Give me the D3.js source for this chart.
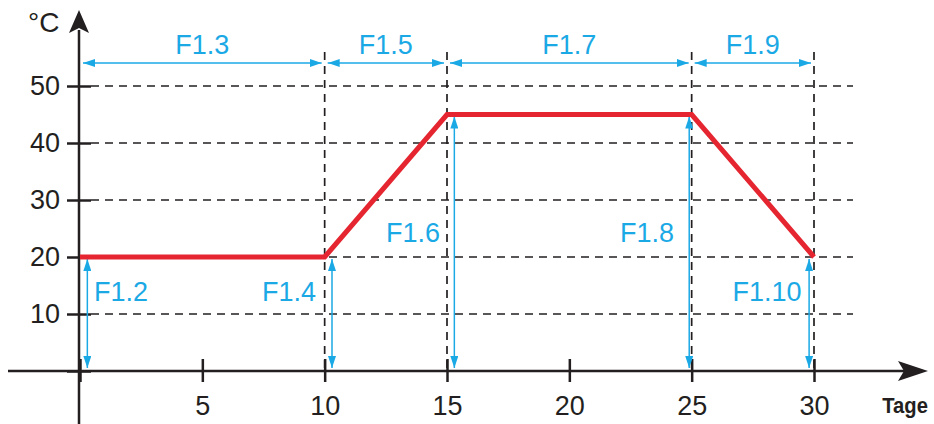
<!DOCTYPE html>
<html>
<head>
<meta charset="utf-8">
<script src="https://cdn.jsdelivr.net/npm/d3@7"></script>
<style>
  body { margin: 0; background: #fff; }
  text { font-family: "Liberation Sans", Arial, sans-serif; }
</style>
</head>
<body>
<svg id="mainsvg" width="934" height="424"></svg>
<script>
// temperature profile (day, °C)
const days = [0, 10, 15, 25, 30]
const temps = [20, 20, 45, 45, 20]
const xTicks = [0, 5, 10, 15, 20, 25, 30]
const yTicks = [0, 10, 20, 30, 40, 50]
// phase spans drawn on top
const spanStart = [0, 10, 15, 25]
const spanEnd = [10, 15, 25, 30]
const spanLabels = ['F1.3', 'F1.5', 'F1.7', 'F1.9']
// level arrows
const levelDays = [0.3, 10.3, 15.3, 24.9, 29.8]
const levelTemps = [20, 20, 45, 45, 20]
const levelLabels = ['F1.2', 'F1.4', 'F1.6', 'F1.8', 'F1.10']
const levelLabelPos = [[121, 301], [289, 301], [413, 242], [647, 242], [767, 301]]

const blue = '#1ba9e6'
const red = '#e52630'
const ink = '#231f20'
const fs = 27

const svg = d3.select('#mainsvg')
const x = d3.scaleLinear().domain([0, 30]).range([80, 814])
const y = d3.scaleLinear().domain([0, 50]).range([371, 86])

const defs = svg.append('defs')
defs.append('marker')
  .attr('id', 'bh').attr('viewBox', '0 0 12 8')
  .attr('refX', 12).attr('refY', 4)
  .attr('markerWidth', 12).attr('markerHeight', 8)
  .attr('markerUnits', 'userSpaceOnUse')
  .attr('orient', 'auto-start-reverse')
  .append('path').attr('d', 'M0,0 L12,4 L0,8 Z').attr('fill', blue)

// dashed grid
svg.append('g').selectAll('line')
  .data(yTicks.filter(d => d > 0))
  .join('line')
  .attr('x1', 91).attr('x2', 853)
  .attr('y1', d => y(d)).attr('y2', d => y(d))
  .attr('stroke', ink).attr('stroke-width', 1.7)
  .attr('stroke-dasharray', '8,6')

svg.append('g').selectAll('line')
  .data(spanEnd)
  .join('line')
  .attr('x1', d => x(d)).attr('x2', d => x(d))
  .attr('y1', 52).attr('y2', y(0))
  .attr('stroke', ink).attr('stroke-width', 1.7)
  .attr('stroke-dasharray', '8,6')

// axes
const xAxis = svg.append('g')
  .attr('transform', `translate(0,${y(0)})`)
  .call(d3.axisBottom(x).tickValues(xTicks).tickSize(0).tickPadding(25)
    .tickFormat(d => d === 0 ? '' : d))
xAxis.select('.domain').remove()
xAxis.selectAll('.tick line').attr('y1', -12).attr('y2', 11)
  .attr('stroke', ink).attr('stroke-width', 2.5)
xAxis.selectAll('.tick text').attr('font-size', fs).attr('fill', ink)
  .attr('font-family', '"Liberation Sans", Arial, sans-serif')

const yAxis = svg.append('g')
  .attr('transform', `translate(${x(0) - 1},0)`)
  .call(d3.axisLeft(y).tickValues(yTicks).tickSize(0).tickPadding(19)
    .tickFormat(d => d === 0 ? '' : d))
yAxis.select('.domain').remove()
yAxis.selectAll('.tick line').attr('x1', -12).attr('x2', 12)
  .attr('stroke', ink).attr('stroke-width', 2.5)
yAxis.selectAll('.tick text').attr('font-size', fs).attr('fill', ink)
  .attr('font-family', '"Liberation Sans", Arial, sans-serif')

svg.append('line')
  .attr('x1', 8).attr('x2', 905).attr('y1', y(0)).attr('y2', y(0))
  .attr('stroke', ink).attr('stroke-width', 2.5)
svg.append('path')
  .attr('d', `M928,${y(0)} L898,${y(0) - 10} L904,${y(0)} L898,${y(0) + 10} Z`)
  .attr('fill', ink)
svg.append('line')
  .attr('x1', x(0) - 1).attr('x2', x(0) - 1).attr('y1', 424).attr('y2', 30)
  .attr('stroke', ink).attr('stroke-width', 2.5)
svg.append('path')
  .attr('d', `M${x(0) - 1},10 L${x(0) - 11},33 L${x(0) - 1},28 L${x(0) + 9},33 Z`)
  .attr('fill', ink)

svg.append('text').attr('x', 28).attr('y', 32).attr('font-size', 28)
  .attr('fill', ink).text('°C')
svg.append('text').attr('x', 928).attr('y', 413).attr('text-anchor', 'end')
  .attr('font-size', 22).attr('font-weight', 'bold').attr('fill', ink)
  .attr('transform', 'translate(928,413) scale(0.92,1) translate(-928,-413)')
  .text('Tage')

// span arrows
svg.append('g').selectAll('line')
  .data(spanStart)
  .join('line')
  .attr('x1', d => x(d) + 3).attr('x2', (d, i) => x(spanEnd[i]) - 3)
  .attr('y1', 63).attr('y2', 63)
  .attr('stroke', blue).attr('stroke-width', 1.5)
  .attr('marker-start', 'url(#bh)').attr('marker-end', 'url(#bh)')
svg.append('g').selectAll('text')
  .data(spanLabels)
  .join('text')
  .attr('x', (d, i) => (x(spanStart[i]) + x(spanEnd[i])) / 2)
  .attr('y', 54).attr('text-anchor', 'middle')
  .attr('font-size', fs).attr('fill', blue)
  .text(d => d)

// level arrows
svg.append('g').selectAll('line')
  .data(levelDays)
  .join('line')
  .attr('x1', d => x(d)).attr('x2', d => x(d))
  .attr('y1', (d, i) => y(levelTemps[i]) + 2).attr('y2', y(0) - 3)
  .attr('stroke', blue).attr('stroke-width', 1.5)
  .attr('marker-start', 'url(#bh)').attr('marker-end', 'url(#bh)')
svg.append('g').selectAll('text')
  .data(levelLabels)
  .join('text')
  .attr('x', (d, i) => levelLabelPos[i][0])
  .attr('y', (d, i) => levelLabelPos[i][1])
  .attr('text-anchor', 'middle')
  .attr('font-size', fs).attr('fill', blue)
  .text(d => d)

// temperature curve
svg.append('path')
  .datum(days.map((d, i) => [d, temps[i]]))
  .attr('d', d3.line().x(d => x(d[0])).y(d => y(d[1])))
  .attr('fill', 'none').attr('stroke', red).attr('stroke-width', 5)
</script>
</body>
</html>
